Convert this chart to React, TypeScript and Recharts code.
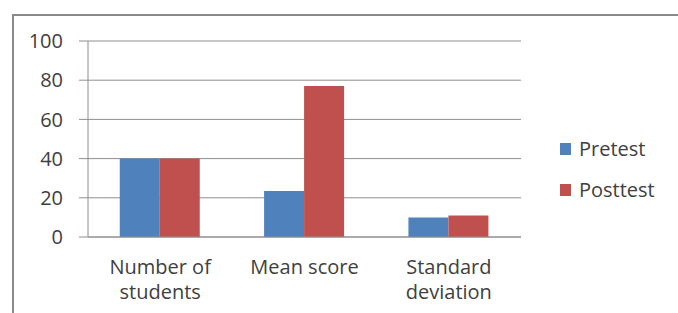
import { BarChart, Bar, XAxis, YAxis, CartesianGrid, Legend } from 'recharts';

const categories = ['Number of\nstudents', 'Mean score', 'Standard\ndeviation'];
const pretest = [40, 23.5, 10];
const posttest = [40, 77, 11];
const yTicks = [0, 20, 40, 60, 80, 100];
const seriesNames = ['Pretest', 'Posttest'];
const seriesColors = ['#4f81bd', '#c0504d'];

const data = categories.map((name, i) => ({ name, pre: pretest[i], post: posttest[i] }));
// tick marks sit between the categories, not under them
const edgeTicks = [...categories.map((_, i) => i), categories.length];

const FONT = '"Open Sans", sans-serif';
const TEXT = '#404040';
const GRID = '#8e8e8e';

function CategoryTick({ x, y, payload }: any) {
  const lines = String(payload.value).split('\n');
  return (
    <g>
      {lines.map((line, i) => (
        <text
          key={i}
          x={x}
          y={y + 37 + i * 25}
          textAnchor="middle"
          fill={TEXT}
          fontSize={20}
          fontFamily={FONT}
        >
          {line}
        </text>
      ))}
    </g>
  );
}

function LegendBox({ payload }: any) {
  const items = [...(payload || [])].sort(
    (a: any, b: any) => seriesNames.indexOf(a.value) - seriesNames.indexOf(b.value)
  );
  return (
    <div style={{ fontFamily: FONT, fontSize: 20, color: TEXT }}>
      {items.map((item: any) => (
        <div key={item.value} style={{ display: 'flex', alignItems: 'center', height: 41 }}>
          <div style={{ width: 11, height: 12, background: item.color, marginRight: 8 }} />
          <span>{item.value}</span>
        </div>
      ))}
    </div>
  );
}

export default function App() {
  return (
    <div style={{ position: 'absolute', left: 0, top: 0, width: 678, height: 313, overflow: 'hidden', background: '#fff' }}>
      {/* frame of the chart area, cut off at right and bottom */}
      <div
        style={{
          position: 'absolute',
          left: 12,
          top: 14,
          width: 700,
          height: 330,
          borderTop: '2px solid #8a8a8a',
          borderLeft: '2px solid #8a8a8a',
        }}
      />
      <div style={{ position: 'absolute', left: 0, top: 0 }}>
        <BarChart
          width={678}
          height={313}
          data={data}
          margin={{ top: 41, right: 157, bottom: 74, left: 28 }}
          barCategoryGap="22%"
          barGap={0}
        >
          <CartesianGrid vertical={false} stroke={GRID} />
          <XAxis
            dataKey="name"
            height={1}
            tickSize={0}
            tickMargin={0}
            tickLine={false}
            axisLine={{ stroke: GRID }}
            tick={<CategoryTick />}
            interval={0}
          />
          <XAxis
            xAxisId="edges"
            type="number"
            domain={[0, categories.length]}
            ticks={edgeTicks}
            allowDataOverflow
            height={1}
            tick={false}
            axisLine={false}
            tickLine={{ stroke: GRID }}
            tickSize={5}
          />
          <YAxis
            width={60}
            domain={[0, 100]}
            ticks={yTicks}
            axisLine={{ stroke: GRID }}
            tickLine={{ stroke: GRID }}
            tickSize={9}
            tickMargin={16}
            tick={{ fill: TEXT, fontSize: 20, fontFamily: FONT }}
          />
          <Legend
            layout="vertical"
            align="center"
            verticalAlign="middle"
            wrapperStyle={{ left: 560, top: 128, width: 118 }}
            content={<LegendBox />}
          />
          <Bar dataKey="pre" name={seriesNames[0]} fill={seriesColors[0]} isAnimationActive={false} />
          <Bar dataKey="post" name={seriesNames[1]} fill={seriesColors[1]} isAnimationActive={false} />
        </BarChart>
      </div>
    </div>
  );
}
